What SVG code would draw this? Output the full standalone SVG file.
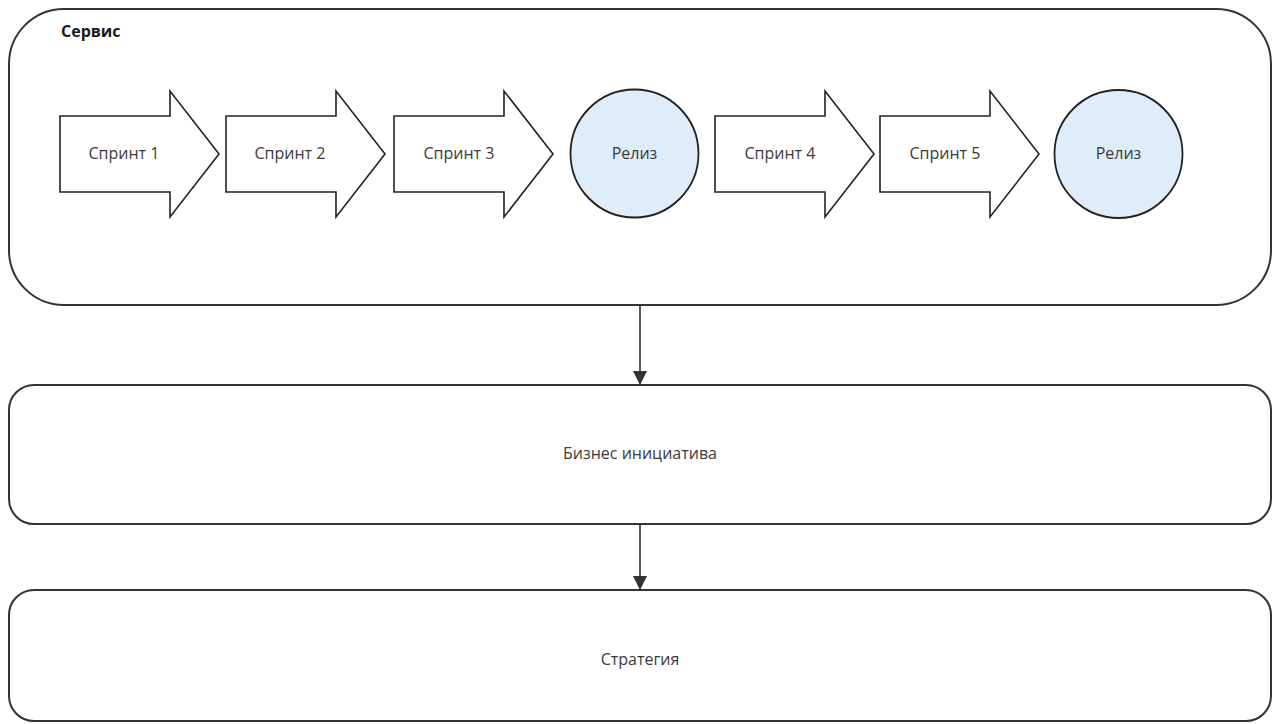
<svg xmlns="http://www.w3.org/2000/svg" width="1274" height="724" viewBox="0 0 1274 724">
<defs>
<style>
.box{fill:#ffffff;stroke:#333333;stroke-width:2}
.arr{fill:#ffffff;stroke:#222222;stroke-width:1.6;stroke-linejoin:miter}
.circ{fill:#deedf9;stroke:#222222;stroke-width:1.8}
.lbl{font-family:"Open Sans","Noto Sans","Liberation Sans",sans-serif;font-size:16px;fill:#3a3a3a;text-anchor:middle;dominant-baseline:central}
.title{font-family:"Open Sans","Noto Sans","Liberation Sans",sans-serif;font-size:16px;font-weight:bold;fill:#1a1a1a}
.conn{stroke:#333333;stroke-width:1.6;fill:none}
</style>
<marker id="ah" viewBox="0 0 10 10" refX="10" refY="5" markerWidth="14" markerHeight="14" markerUnits="userSpaceOnUse" orient="auto">
<path d="M0,0 L10,5 L0,10 Z" fill="#333333"/>
</marker>
<path id="sprint" d="M0,-38 L110,-38 L110,-63 L159,0 L110,63 L110,38 L0,38 Z"/>
</defs>
<rect width="1274" height="724" fill="#ffffff"/>

<g id="service">
<rect class="box" x="9" y="9" width="1262" height="296" rx="55" ry="55"/>
<text class="title" x="61" y="37">Сервис</text>
</g>

<g id="sprint1">
<use href="#sprint" class="arr" x="60" y="154"/>
<text class="lbl" x="124" y="153">Спринт 1</text>
</g>
<g id="sprint2">
<use href="#sprint" class="arr" x="226" y="154"/>
<text class="lbl" x="290" y="153">Спринт 2</text>
</g>
<g id="sprint3">
<use href="#sprint" class="arr" x="394" y="154"/>
<text class="lbl" x="459" y="153">Спринт 3</text>
</g>
<g id="release1">
<circle class="circ" cx="634.5" cy="153.5" r="64"/>
<text class="lbl" x="634.5" y="153">Релиз</text>
</g>
<g id="sprint4">
<use href="#sprint" class="arr" x="715" y="154"/>
<text class="lbl" x="780" y="153">Спринт 4</text>
</g>
<g id="sprint5">
<use href="#sprint" class="arr" x="880" y="154"/>
<text class="lbl" x="945" y="153">Спринт 5</text>
</g>
<g id="release2">
<circle class="circ" cx="1118.5" cy="154" r="64"/>
<text class="lbl" x="1118.5" y="153">Релиз</text>
</g>

<g id="business">
<rect class="box" x="9" y="385" width="1262" height="139" rx="25" ry="25"/>
<text class="lbl" x="640" y="453">Бизнес инициатива</text>
</g>

<g id="strategy">
<rect class="box" x="9" y="590" width="1262" height="131" rx="25" ry="25"/>
<text class="lbl" x="640" y="659">Стратегия</text>
</g>

<g id="connectors">
<line class="conn" x1="640" y1="305" x2="640" y2="385" marker-end="url(#ah)"/>
<line class="conn" x1="640" y1="524" x2="640" y2="590" marker-end="url(#ah)"/>
</g>
</svg>
